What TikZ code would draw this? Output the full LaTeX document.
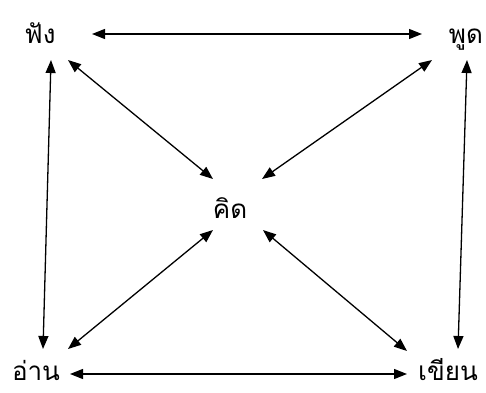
\documentclass[tikz,border=0pt]{standalone}
\usepackage{fontspec}
\newfontfamily\thaifont[Script=Thai]{Loma}
\usetikzlibrary{arrows.meta}
\begin{document}
\begin{tikzpicture}[x=1pt,y=-1pt,
  word/.style={font=\thaifont\fontsize{26}{30}\selectfont, inner sep=0pt, anchor=base},
  arr/.style={{Triangle[length=13pt,width=10pt]}-{Triangle[length=13pt,width=10pt]}, line width=1.3pt, black}]
\useasboundingbox (0,0) rectangle (486,392);
\node[word] (fung) at (40,43) {ฟัง};
\node[word] (phud) at (466,43) {พูด};
\node[word] (khit) at (230,218) {คิด};
\node[word] (aan) at (36,380) {อ่าน};
\node[word] (khian) at (448,380) {เขียน};
\draw[arr] ([shift={(52,-9)}]fung.base) -- ([shift={(-44,-9)}]phud.base);
\draw[arr] ([shift={(11,17)}]fung.base) -- ([shift={(7,-31)}]aan.base);
\draw[arr] ([shift={(1,17)}]phud.base) -- ([shift={(10,-31)}]khian.base);
\draw[arr] ([shift={(34,-6)}]aan.base) -- ([shift={(-41,-6)}]khian.base);
\draw[arr] ([shift={(28,17)}]fung.base) -- ([shift={(-17,-39)}]khit.base);
\draw[arr] ([shift={(-34,17)}]phud.base) -- ([shift={(32,-39)}]khit.base);
\draw[arr] ([shift={(-17,12)}]khit.base) -- ([shift={(32,-31)}]aan.base);
\draw[arr] ([shift={(33,12)}]khit.base) -- ([shift={(-41,-29)}]khian.base);
\end{tikzpicture}
\end{document}
